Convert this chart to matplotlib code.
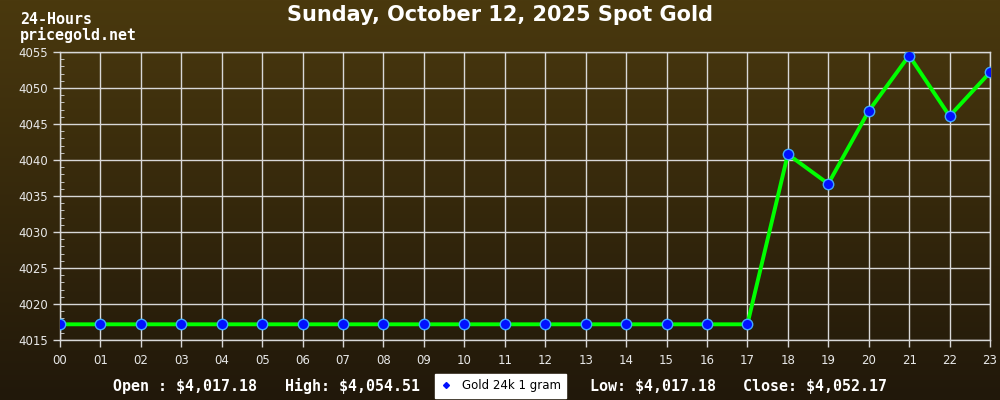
import numpy as np
import matplotlib
matplotlib.use("Agg")
import matplotlib.pyplot as plt
from matplotlib.lines import Line2D

hours = ["00", "01", "02", "03", "04", "05", "06", "07", "08", "09", "10", "11",
         "12", "13", "14", "15", "16", "17", "18", "19", "20", "21", "22", "23"]
prices = [4017.18] * 18 + [4040.8, 4036.7, 4046.8, 4054.51, 4046.1, 4052.17]
yticks = [4015, 4020, 4025, 4030, 4035, 4040, 4045, 4050, 4055]
title = "Sunday, October 12, 2025 Spot Gold"
open_txt = "Open : $4,017.18"
high_txt = "High: $4,054.51"
low_txt = "Low: $4,017.18"
close_txt = "Close: $4,052.17"
legend_label = "Gold 24k 1 gram"

fig = plt.figure(figsize=(10, 4), dpi=100)

# gradient background
bg = fig.add_axes([0, 0, 1, 1], zorder=-10)
top = np.array([74, 57, 14]) / 255.0
bot = np.array([33, 24, 10]) / 255.0
t = np.linspace(0, 1, 256)[:, None]
grad = (top[None, :] * (1 - t) + bot[None, :] * t)[:, None, :]
bg.imshow(grad, aspect="auto", extent=[0, 1, 0, 1])
bg.set_axis_off()

ax = fig.add_axes([0.06, 0.15, 0.93, 0.72])
ax.set_facecolor("none")
x = np.arange(len(hours))
ax.plot(x, prices, color="#00ff00", lw=2.8, zorder=3)
ax.plot(x, prices, ls="none", marker="o", ms=7.5, mfc="#0010ff", mec="#3fa8ff",
        mew=1.0, zorder=4)
ax.set_xlim(0, 23)
ax.set_ylim(4015, 4055)
ax.set_xticks(x)
ax.set_xticklabels(hours)
ax.set_yticks(yticks)
ax.set_yticks(np.arange(4015, 4056, 1), minor=True)
ax.grid(True, which="major", color="#d8d8d8", lw=1.0)
for s in ax.spines.values():
    s.set_color("#d8d8d8")
    s.set_linewidth(1.0)
ax.tick_params(axis="both", which="major", colors="#d8d8d8", labelcolor="#e8e8e8",
               labelsize=8.5, length=5, width=1.0)
ax.tick_params(axis="y", which="minor", direction="in", length=3, colors="#d8d8d8")
ax.tick_params(axis="x", which="major", pad=5)

fig.text(0.5, 0.962, title, ha="center", va="center", color="white",
         fontsize=15, fontweight="bold", family="DejaVu Sans")
fig.text(0.02, 0.952, "24-Hours", ha="left", va="center", color="white",
         fontsize=10.8, fontweight="bold", family="DejaVu Sans Mono")
fig.text(0.02, 0.913, "pricegold.net", ha="left", va="center", color="white",
         fontsize=10.8, fontweight="bold", family="DejaVu Sans Mono")

ty = 0.035
kw = dict(va="center", color="white", fontsize=10.8, fontweight="bold",
          family="DejaVu Sans Mono")
fig.text(0.113, ty, open_txt, ha="left", **kw)
fig.text(0.285, ty, high_txt, ha="left", **kw)
fig.text(0.590, ty, low_txt, ha="left", **kw)
fig.text(0.743, ty, close_txt, ha="left", **kw)

h = Line2D([], [], ls="none", marker="D", ms=3, mfc="#0010ff", mec="#0010ff")
leg = fig.legend([h], [legend_label], loc="center", bbox_to_anchor=(0.5005, 0.035),
                 frameon=True, fancybox=False, fontsize=8.5, handlelength=1.0,
                 handletextpad=0.8, borderpad=0.45, borderaxespad=0)
leg.get_frame().set_facecolor("white")
leg.get_frame().set_edgecolor("white")
leg.get_frame().set_alpha(1)

fig.savefig("out.png", dpi=100)
